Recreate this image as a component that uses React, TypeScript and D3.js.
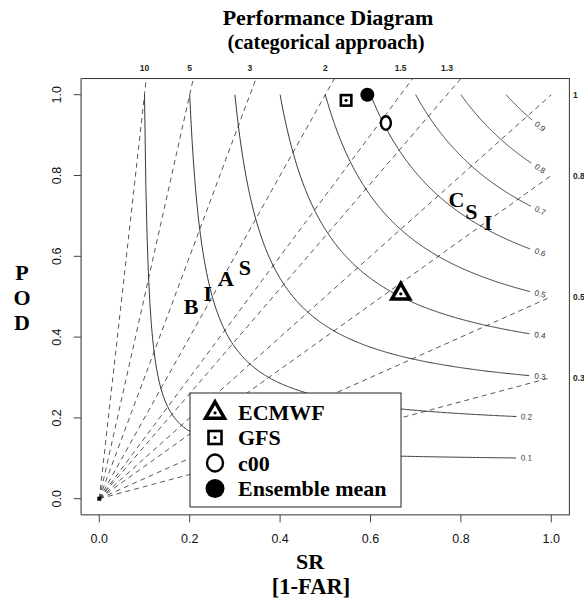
import React from 'react';
import * as d3 from 'd3';

// forecast systems: success ratio (SR) and probability of detection (POD)
const models = ['ECMWF', 'GFS', 'c00', 'Ensemble mean'];
const srValues = [0.667, 0.546, 0.634, 0.593];
const podValues = [0.509, 0.986, 0.93, 1.0];

const biasLevels = [10, 5, 3, 2, 1.5, 1.3, 1, 0.8, 0.5, 0.3];
const biasTopLabels = ['10', '5', '3', '2', '1.5', '1.3'];
const biasRightLabels = ['1', '0.8', '0.5', '0.3'];
const csiLevels = [0.1, 0.2, 0.3, 0.4, 0.5, 0.6, 0.7, 0.8, 0.9];
const tickValues = [0, 0.2, 0.4, 0.6, 0.8, 1.0];

// word labels placed in data space
const biasWord = ['B', 'I', 'A', 'S'];
const biasWordSR = [0.203, 0.24, 0.28, 0.322];
const biasWordPOD = [0.475, 0.509, 0.546, 0.572];
const csiWord = ['C', 'S', 'I'];
const csiWordSR = [0.79, 0.823, 0.86];
const csiWordPOD = [0.74, 0.71, 0.683];

const W = 584;
const H = 603;
const serif = "'Liberation Serif', 'Times New Roman', serif";
const sans = "'Liberation Sans', Arial, sans-serif";

const x = d3.scaleLinear().domain([0, 1]).range([99.3, 551.3]);
const y = d3.scaleLinear().domain([0, 1]).range([498.7, 94.7]);
const box = { x0: x(-0.04), x1: x(1.04), y0: y(1.04), y1: y(-0.04) };

const csiPod = (c: number, sr: number) => 1 / (1 / c - 1 / sr + 1);

function csiContour(c: number) {
  const labelSR = c < 0.25 ? 0.945 : 0.975;
  const lx = x(labelSR);
  const ly = y(csiPod(c, labelSR));
  const pts: [number, number][] = [];
  const n = 300;
  for (let i = 0; i <= n; i++) {
    const sr = c + ((1 - c) * i) / n;
    const px = x(sr);
    const py = y(csiPod(c, sr));
    if (Math.hypot(px - lx, py - ly) < 10 && sr > labelSR - 0.1) break;
    pts.push([px, py]);
  }
  const d1 = labelSR - 0.005;
  const d2 = labelSR + 0.005;
  const ang = (Math.atan2(y(csiPod(c, d2)) - y(csiPod(c, d1)), x(d2) - x(d1)) * 180) / Math.PI;
  return { path: d3.line()(pts) as string, lx, ly, ang };
}

function Triangle({ cx, cy, s, sw }: { cx: number; cy: number; s: number; sw: number }) {
  const h = s * 0.87;
  const p = `M${cx},${cy - h * 0.62}L${cx + s / 2},${cy + h * 0.38}L${cx - s / 2},${cy + h * 0.38}Z`;
  return (
    <g>
      <path d={p} fill="#fff" stroke="#000" strokeWidth={sw} strokeLinejoin="miter" />
      <circle cx={cx} cy={cy + h * 0.05} r={1.6} fill="#000" />
    </g>
  );
}

function Square({ cx, cy, s, sw }: { cx: number; cy: number; s: number; sw: number }) {
  return (
    <g>
      <rect x={cx - s / 2} y={cy - s / 2} width={s} height={s} fill="#fff" stroke="#000" strokeWidth={sw} />
      <circle cx={cx} cy={cy} r={1.6} fill="#000" />
    </g>
  );
}

function Symbol({ i, cx, cy, big }: { i: number; cx: number; cy: number; big: boolean }) {
  if (i === 0) return <Triangle cx={cx} cy={cy} s={big ? 19 : 18} sw={3.5} />;
  if (i === 1) return <Square cx={cx} cy={cy} s={big ? 13 : 10.5} sw={2.6} />;
  if (i === 2)
    return <ellipse cx={cx} cy={cy} rx={big ? 8 : 5} ry={big ? 8.5 : 6.8} fill="#fff" stroke="#000" strokeWidth={2.4} />;
  return <circle cx={cx} cy={cy} r={big ? 9.5 : 7} fill="#000" />;
}

export default function App() {
  const contours = csiLevels.map((c) => ({ c, ...csiContour(c) }));

  return (
    <svg width={W} height={H} style={{ position: 'absolute', left: 0, top: 0, background: '#fff' }}>
      <defs>
        <clipPath id="plotClip">
          <rect x={box.x0} y={box.y0} width={box.x1 - box.x0} height={box.y1 - box.y0} />
        </clipPath>
      </defs>

      {/* titles */}
      <text x={328} y={25} textAnchor="middle" fontFamily={serif} fontWeight="bold" fontSize={22}>
        Performance Diagram
      </text>
      <text x={326} y={49} textAnchor="middle" fontFamily={serif} fontWeight="bold" fontSize={20.5}>
        (categorical approach)
      </text>

      {/* bias lines */}
      <g clipPath="url(#plotClip)">
        {biasLevels.map((b) => (
          <line
            key={b}
            x1={x(0)}
            y1={y(0)}
            x2={x(1)}
            y2={y(b)}
            stroke="#444"
            strokeWidth={0.9}
            strokeDasharray="5,4"
          />
        ))}
      </g>

      {/* CSI contours */}
      {contours.map((k) => (
        <g key={k.c}>
          <path d={k.path} fill="none" stroke="#222" strokeWidth={0.9} />
          <text
            x={k.lx}
            y={k.ly}
            transform={`rotate(${k.ang},${k.lx},${k.ly})`}
            textAnchor="middle"
            dominantBaseline="central"
            fontFamily={sans}
            fontSize={8}
            fill="#333"
          >
            {k.c.toFixed(1)}
          </text>
        </g>
      ))}

      {/* BIAS / CSI words */}
      {biasWord.map((t, i) => (
        <text
          key={'b' + i}
          x={x(biasWordSR[i])}
          y={y(biasWordPOD[i])}
          textAnchor="middle"
          dominantBaseline="central"
          fontFamily={serif}
          fontWeight="bold"
          fontSize={22}
        >
          {t}
        </text>
      ))}
      {csiWord.map((t, i) => (
        <text
          key={'c' + i}
          x={x(csiWordSR[i])}
          y={y(csiWordPOD[i])}
          textAnchor="middle"
          dominantBaseline="central"
          fontFamily={serif}
          fontWeight="bold"
          fontSize={22}
        >
          {t}
        </text>
      ))}

      {/* origin marker */}
      <rect x={x(0) - 2} y={y(0) - 2} width={4} height={4} fill="#000" />

      {/* forecast points */}
      {models.map((m, i) => (
        <Symbol key={m} i={i} cx={x(srValues[i])} cy={y(podValues[i])} big={false} />
      ))}

      {/* legend */}
      <g>
        <rect x={190} y={393} width={211} height={114} fill="#fff" stroke="#222" strokeWidth={1} />
        {models.map((m, i) => {
          const ry = 412 + i * 25.5;
          return (
            <g key={m}>
              <Symbol i={i} cx={215} cy={ry} big={true} />
              <text x={238} y={ry} dominantBaseline="central" fontFamily={serif} fontWeight="bold" fontSize={22}>
                {m}
              </text>
            </g>
          );
        })}
      </g>

      {/* bias labels outside the box */}
      {biasTopLabels.map((t, i) => (
        <text
          key={t}
          x={x(1 / biasLevels[i])}
          y={71}
          textAnchor="middle"
          fontFamily={sans}
          fontWeight="bold"
          fontSize={8.5}
          fill="#1f2a12"
        >
          {t}
        </text>
      ))}
      {biasRightLabels.map((t, i) => (
        <text
          key={t}
          x={573}
          y={y(biasLevels[i + 6])}
          dominantBaseline="central"
          fontFamily={sans}
          fontWeight="bold"
          fontSize={8.5}
          fill="#1f2a12"
        >
          {t}
        </text>
      ))}

      {/* frame */}
      <rect
        x={box.x0}
        y={box.y0}
        width={box.x1 - box.x0}
        height={box.y1 - box.y0}
        fill="none"
        stroke="#333"
        strokeWidth={1}
      />
      <line x1={box.x0} y1={box.y0} x2={box.x0} y2={box.y1} stroke="#888" strokeWidth={1.6} />

      {/* x axis */}
      {tickValues.map((t) => (
        <g key={'x' + t}>
          <line x1={x(t)} y1={box.y1} x2={x(t)} y2={box.y1 + 7.5} stroke="#444" />
          <text x={x(t)} y={543} textAnchor="middle" fontFamily={sans} fontSize={12.5} fill="#111">
            {t.toFixed(1)}
          </text>
        </g>
      ))}
      {/* y axis */}
      {tickValues.map((t) => (
        <g key={'y' + t}>
          <line x1={box.x0} y1={y(t)} x2={box.x0 - 7.5} y2={y(t)} stroke="#444" />
          <text
            x={61}
            y={y(t)}
            transform={`rotate(-90,61,${y(t)})`}
            textAnchor="middle"
            fontFamily={sans}
            fontSize={12.5}
            fill="#111"
          >
            {t.toFixed(1)}
          </text>
        </g>
      ))}

      {/* axis titles */}
      <text x={310} y={569} textAnchor="middle" fontFamily={serif} fontWeight="bold" fontSize={22}>
        SR
      </text>
      <text x={311} y={594} textAnchor="middle" fontFamily={serif} fontWeight="bold" fontSize={22.5}>
        [1-FAR]
      </text>
      {['P', 'O', 'D'].map((t, i) => (
        <text
          key={t}
          x={22}
          y={272 + i * 25}
          textAnchor="middle"
          dominantBaseline="central"
          fontFamily={serif}
          fontWeight="bold"
          fontSize={22}
        >
          {t}
        </text>
      ))}
    </svg>
  );
}
